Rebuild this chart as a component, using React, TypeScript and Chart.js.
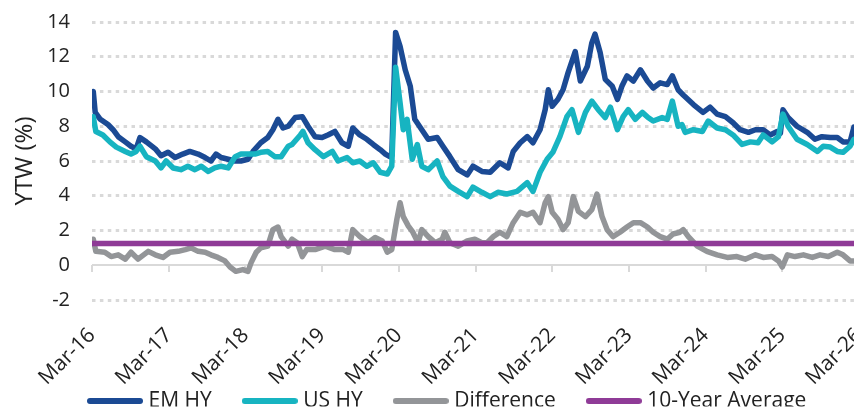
import React, { useEffect, useRef } from "react";
import { Chart, registerables } from "chart.js";

Chart.register(...registerables);

// x values are months since Mar-2016
const tickMonths = [0, 12, 24, 36, 48, 60, 72, 84, 96, 108, 120];
const tickLabels = ["Mar-16", "Mar-17", "Mar-18", "Mar-19", "Mar-20", "Mar-21", "Mar-22", "Mar-23", "Mar-24", "Mar-25", "Mar-26"];

const emHyMonths = [0.2, 0.5, 1.3, 2.5, 3.3, 4.1, 5.2, 6.1, 6.9, 7.5, 8.5, 9.9, 10.8, 11.9, 13.0, 14.2, 15.3, 16.6, 17.7, 18.6, 19.4, 20.2, 21.3, 22.4, 23.3, 24.4, 25.2, 26.4, 27.5, 28.3, 29.1, 29.9, 30.7, 31.8, 32.9, 33.8, 34.9, 36.0, 36.9, 38.0, 39.1, 40.1, 40.8, 41.9, 43.0, 44.0, 45.1, 45.9, 46.6, 46.9, 47.5, 48.2, 49.0, 49.8, 50.5, 51.6, 52.6, 54.0, 54.9, 56.0, 57.3, 58.7, 59.6, 61.0, 62.3, 63.8, 65.1, 65.9, 67.0, 68.1, 69.0, 70.1, 70.9, 71.4, 72.0, 72.9, 73.7, 74.5, 75.6, 76.4, 77.5, 78.2, 78.7, 79.5, 80.3, 81.4, 82.2, 82.9, 83.7, 84.7, 85.8, 86.9, 87.8, 88.9, 90.0, 90.8, 91.7, 92.5, 94.1, 95.6, 96.7, 97.8, 99.1, 100.3, 101.4, 102.7, 103.8, 105.0, 106.1, 107.2, 107.7, 108.1, 108.9, 110.3, 111.9, 113.1, 114.2, 115.5, 116.6, 117.5, 118.6, 119.2];
const emHyValues = [10.0, 8.8, 8.4, 8.1, 7.8, 7.4, 7.1, 6.85, 6.7, 7.35, 7.1, 6.7, 6.3, 6.5, 6.2, 6.4, 6.55, 6.4, 6.2, 6.0, 6.4, 6.2, 6.1, 6.0, 6.0, 6.1, 6.55, 7.05, 7.35, 7.8, 8.4, 7.9, 8.0, 8.5, 8.55, 8.0, 7.4, 7.35, 7.5, 7.7, 7.05, 6.85, 7.9, 7.5, 7.25, 6.95, 6.65, 6.4, 6.25, 6.3, 13.4, 12.6, 11.25, 10.3, 8.4, 7.8, 7.25, 7.35, 6.85, 6.25, 5.5, 5.2, 5.7, 5.4, 5.35, 5.9, 5.6, 6.55, 7.05, 7.4, 7.05, 7.8, 8.95, 10.1, 9.15, 9.55, 10.1, 11.1, 12.3, 10.6, 11.45, 12.8, 13.3, 12.25, 10.7, 10.3, 9.55, 10.3, 10.9, 10.6, 11.25, 10.6, 10.2, 10.5, 10.4, 10.9, 10.1, 9.8, 9.25, 8.8, 9.1, 8.7, 8.55, 8.2, 7.8, 7.65, 7.8, 7.8, 7.5, 7.7, 7.6, 8.95, 8.5, 8.0, 7.65, 7.25, 7.4, 7.35, 7.35, 7.1, 7.1, 7.95];

const usHyMonths = [0.2, 0.6, 1.7, 2.8, 3.8, 5.2, 6.1, 6.9, 7.5, 8.5, 9.9, 10.8, 11.6, 12.7, 13.9, 15.0, 16.1, 17.1, 18.2, 19.2, 20.2, 21.3, 22.4, 23.3, 24.4, 25.5, 26.4, 27.5, 28.6, 29.6, 30.7, 31.3, 32.6, 33.0, 33.8, 34.9, 36.2, 37.6, 38.5, 39.9, 40.8, 41.9, 43.0, 44.0, 45.1, 46.2, 46.9, 47.5, 48.2, 48.7, 49.3, 50.1, 50.9, 51.6, 52.6, 54.0, 54.9, 56.0, 57.3, 58.7, 59.6, 61.0, 62.3, 63.5, 64.9, 66.5, 68.1, 69.0, 70.1, 71.2, 72.1, 73.2, 74.3, 75.1, 76.1, 77.2, 78.2, 79.2, 80.3, 81.1, 82.2, 83.1, 83.9, 85.0, 86.1, 87.0, 87.8, 89.2, 90.0, 90.8, 91.7, 92.3, 92.8, 94.1, 95.5, 96.4, 97.8, 99.1, 100.3, 101.7, 103.0, 104.2, 105.0, 106.4, 107.4, 108.1, 108.9, 110.3, 111.9, 113.5, 114.4, 115.5, 116.6, 117.5, 118.6, 119.2];
const usHyValues = [8.55, 7.7, 7.5, 7.1, 6.8, 6.55, 6.4, 6.55, 6.85, 6.25, 6.0, 5.6, 6.0, 5.6, 5.5, 5.7, 5.5, 5.7, 5.4, 5.6, 5.7, 5.6, 6.25, 6.4, 6.4, 6.4, 6.5, 6.55, 6.25, 6.25, 6.85, 6.95, 7.5, 7.7, 7.05, 6.65, 6.25, 6.55, 6.0, 6.2, 5.9, 6.0, 5.7, 5.9, 5.35, 5.25, 5.7, 11.4, 9.35, 7.8, 8.4, 6.1, 6.95, 5.7, 5.5, 6.0, 5.1, 4.55, 4.25, 3.95, 4.5, 4.2, 3.95, 4.2, 4.1, 4.25, 4.75, 4.25, 5.35, 6.1, 6.5, 7.4, 8.55, 8.95, 7.65, 8.8, 9.45, 8.95, 8.5, 9.1, 7.8, 8.55, 8.95, 8.4, 8.8, 8.5, 8.3, 8.5, 8.4, 9.45, 8.0, 8.1, 7.65, 7.8, 7.7, 8.3, 7.9, 7.8, 7.5, 6.95, 7.1, 7.05, 7.5, 7.1, 7.4, 8.7, 8.0, 7.25, 6.95, 6.55, 6.85, 6.8, 6.55, 6.5, 6.85, 7.25];

const diffMonths = [0.2, 0.6, 2.0, 3.0, 4.1, 5.2, 6.1, 7.2, 8.8, 9.9, 11.1, 12.2, 13.5, 14.6, 15.5, 16.6, 17.7, 18.6, 19.7, 20.8, 21.6, 22.5, 23.6, 24.4, 24.9, 25.7, 26.4, 27.5, 28.3, 29.1, 29.6, 30.7, 31.3, 32.1, 32.9, 33.6, 34.9, 36.5, 38.0, 39.3, 40.1, 40.8, 41.9, 43.2, 44.3, 45.4, 46.2, 46.9, 47.7, 48.2, 48.7, 49.5, 50.2, 51.0, 51.6, 52.6, 53.7, 54.8, 55.2, 56.0, 57.3, 58.7, 59.9, 61.0, 61.8, 62.8, 63.8, 64.9, 65.9, 67.0, 68.1, 69.0, 70.1, 70.9, 71.4, 72.0, 72.9, 73.7, 74.5, 75.3, 76.1, 77.2, 78.2, 79.0, 79.8, 80.6, 81.5, 82.6, 83.7, 84.7, 85.8, 86.9, 87.8, 88.9, 90.0, 90.9, 92.0, 92.5, 93.3, 94.7, 96.2, 97.8, 99.4, 100.9, 102.2, 103.8, 105.0, 106.4, 107.4, 108.0, 108.8, 110.0, 111.3, 112.7, 113.9, 115.2, 116.6, 117.5, 118.6, 119.2];
const diffValues = [1.5, 0.8, 0.75, 0.5, 0.6, 0.35, 0.75, 0.35, 0.8, 0.6, 0.45, 0.75, 0.8, 0.9, 1.0, 0.8, 0.75, 0.6, 0.45, 0.25, -0.1, -0.35, -0.25, -0.35, 0.15, 0.75, 1.0, 1.1, 2.05, 2.2, 1.65, 1.1, 1.5, 1.3, 0.5, 0.9, 0.9, 1.1, 0.9, 0.9, 0.75, 2.05, 1.65, 1.3, 1.6, 1.4, 0.75, 0.9, 2.65, 3.6, 2.8, 2.25, 1.9, 1.3, 2.05, 1.65, 1.3, 1.5, 1.9, 1.3, 1.1, 1.4, 1.5, 1.3, 1.3, 1.65, 1.9, 1.65, 2.45, 3.05, 2.9, 3.05, 2.45, 3.6, 3.95, 3.05, 2.65, 2.05, 2.45, 3.95, 3.1, 2.8, 3.2, 4.1, 2.8, 2.05, 1.65, 1.9, 2.2, 2.45, 2.45, 2.2, 1.9, 1.65, 1.5, 1.8, 1.9, 2.05, 1.65, 1.1, 0.8, 0.6, 0.45, 0.5, 0.35, 0.6, 0.45, 0.5, 0.25, -0.1, 0.6, 0.5, 0.6, 0.45, 0.6, 0.5, 0.75, 0.6, 0.25, 0.25];

const avgMonths = [0, 121];
const avgValues = [1.25, 1.25];

const seriesNames = ["EM HY", "US HY", "Difference", "10-Year Average"];
const seriesColors = ["#1b4a94", "#17b4c1", "#939598", "#8f3b97"];

const FONT = "'Open Sans', 'Noto Sans', sans-serif";
const TEXT = "#222222";
const GRID = "#d9d9d9";

function pts(xs: number[], ys: number[]) {
  return xs.map((x, i) => ({ x, y: ys[i] }));
}

// legend swatch: a rounded thick line
function swatch(color: string) {
  const c = document.createElement("canvas");
  c.width = 56;
  c.height = 6;
  const g = c.getContext("2d")!;
  g.strokeStyle = color;
  g.lineWidth = 6;
  g.lineCap = "round";
  g.beginPath();
  g.moveTo(3, 3);
  g.lineTo(53, 3);
  g.stroke();
  return c;
}

const LEGEND_PAD = 35;

const layoutFix = {
  id: "layoutFix",
  beforeInit(chart: any) {
    const lg = chart.legend;
    if (lg && !lg.__patched) {
      const orig = lg.fit;
      lg.fit = function () {
        orig.call(this);
        this.height = 25;
      };
      lg.__patched = true;
    }
  },
  afterLayout(chart: any) {
    const lg = chart.legend;
    if (lg) {
      const w = lg.right - lg.left;
      lg.left = 92 - LEGEND_PAD;
      lg.right = lg.left + w;
      lg.top = 355.5;
      lg.bottom = lg.top + 51;
    }
  },
};

const noPad = (s: any) => {
  s.paddingLeft = 0;
  s.paddingRight = 0;
  s.paddingTop = 0;
  s.paddingBottom = 0;
};

export default function App() {
  const ref = useRef<HTMLCanvasElement | null>(null);

  useEffect(() => {
    if (!ref.current) return;
    const setTicks = (scale: any) => {
      scale.ticks = tickMonths.map((v) => ({ value: v }));
    };
    const swatches = seriesColors.map(swatch);
    const chart = new Chart(ref.current, {
      type: "line",
      plugins: [layoutFix],
      data: {
        datasets: [
          { label: seriesNames[0], data: pts(emHyMonths, emHyValues), borderColor: seriesColors[0], backgroundColor: seriesColors[0], order: 4 },
          { label: seriesNames[1], data: pts(usHyMonths, usHyValues), borderColor: seriesColors[1], backgroundColor: seriesColors[1], order: 3 },
          { label: seriesNames[2], data: pts(diffMonths, diffValues), borderColor: seriesColors[2], backgroundColor: seriesColors[2], order: 2 },
          { label: seriesNames[3], data: pts(avgMonths, avgValues), borderColor: seriesColors[3], backgroundColor: seriesColors[3], order: 1 },
        ].map((d) => ({ ...d, xAxisID: "x", yAxisID: "y", borderWidth: 5.5, pointRadius: 0, tension: 0, borderJoinStyle: "round" as const, borderCapStyle: "round" as const, fill: false })),
      },
      options: {
        responsive: false,
        animation: false,
        devicePixelRatio: 1,
        layout: { padding: { left: 7, right: 1, top: 22, bottom: 0 } },
        plugins: {
          tooltip: { enabled: false },
          legend: {
            position: "bottom",
            align: "start",
            labels: {
              usePointStyle: true,
              pointStyleWidth: 46,
              padding: LEGEND_PAD,
              color: TEXT,
              font: { family: FONT, size: 21 },
              sort: (a: any, b: any) => a.datasetIndex - b.datasetIndex,
              generateLabels: (ch: any) => {
                const items = Chart.defaults.plugins.legend.labels.generateLabels(ch);
                return items.map((it: any) => ({ ...it, pointStyle: swatches[it.datasetIndex], lineWidth: 0 }));
              },
            },
          },
        },
        scales: {
          x: {
            type: "linear",
            position: "bottom",
            min: 0,
            max: 120,
            afterBuildTicks: setTicks,
            afterFit: (s: any) => {
              noPad(s);
              s.height = 86;
            },
            grid: { display: false },
            border: { display: false },
            ticks: {
              autoSkip: false,
              maxRotation: 45,
              minRotation: 45,
              padding: 15,
              color: TEXT,
              font: { family: FONT, size: 21 },
              callback: (v: any) => tickLabels[tickMonths.indexOf(Number(v))] ?? "",
            },
          },
          x2: {
            type: "linear",
            axis: "x",
            position: { y: 0 },
            min: 0,
            max: 120,
            afterBuildTicks: setTicks,
            afterFit: (s: any) => {
              noPad(s);
              s.height = 0;
            },
            grid: { drawOnChartArea: false, drawTicks: true, tickLength: 7, color: GRID, lineWidth: 2 },
            border: { display: false },
            ticks: { display: false },
          },
          y: {
            type: "linear",
            min: -2,
            max: 14,
            afterFit: (s: any) => {
              noPad(s);
              s.width = 85;
            },
            ticks: { stepSize: 2, padding: 22, color: TEXT, font: { family: FONT, size: 20 } },
            grid: {
              drawTicks: false,
              color: GRID,
              lineWidth: (ctx: any) => (ctx.tick && ctx.tick.value === 0 ? 2 : 3),
            },
            border: {
              display: false,
              dash: (ctx: any) => (ctx.tick && ctx.tick.value === 0 ? [] : [3.5, 4.4]),
            },
            title: {
              display: true,
              text: "YTW (%)",
              color: TEXT,
              font: { family: FONT, size: 24 },
              padding: { top: 4, bottom: 0 },
            },
          },
        },
      } as any,
    });
    return () => chart.destroy();
  }, []);

  return (
    <div style={{ position: "fixed", left: 0, top: 0, width: 854, height: 411, overflow: "hidden", background: "#fff" }}>
      <canvas ref={ref} width={860} height={411} style={{ display: "block" }} />
    </div>
  );
}
